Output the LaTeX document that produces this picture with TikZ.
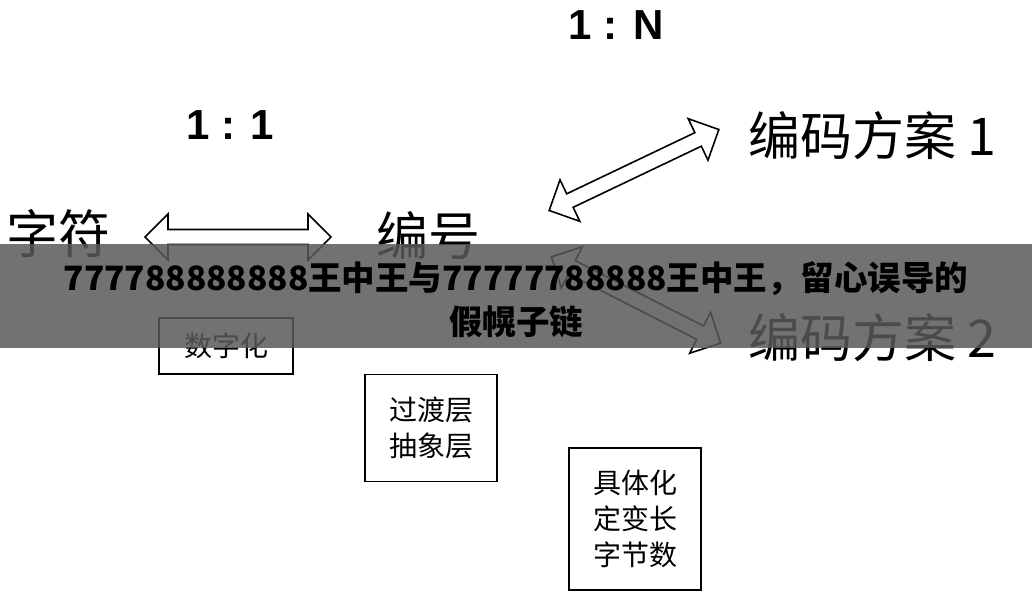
\documentclass[tikz,border=0pt]{standalone}
\usepackage{fontspec}
\newfontfamily\cjk{Noto Sans CJK SC}
\setmainfont{Liberation Sans}
\usetikzlibrary{shapes.arrows,positioning}
\begin{document}
\begin{tikzpicture}
    [x=1pt,y=-1pt,
    label/.style={font=\cjk\fontsize{52}{56}\selectfont,inner sep=0pt},
    ratio/.style={font=\bfseries\fontsize{42}{46}\selectfont,inner sep=0pt},
    box/.style={draw,line width=1.2pt,font=\cjk\fontsize{28}{36}\selectfont,align=center,inner sep=0pt},
    twoway/.style={double arrow,draw,line width=1.6pt,fill=white,minimum height=#1,
      minimum width=46pt,double arrow head extend=12pt,inner sep=5pt}]
    \useasboundingbox (0,0) rectangle (1032,594);
    \node[ratio] (one) at (230,125) {1 : 1};
    \node[ratio] (many) at (616,25) {1 : N};
    \node[label] (char) at (58,234) {字符};
    \node[label] (code) at (428,236) {编号};
    \node[label,anchor=west] (plan one) at (748,136) {编码方案 1};
    \node[label,anchor=west] (plan two) at (748,338) {编码方案 2};
    \node[twoway=186pt] (link) at (238,237) {};
    \node[twoway=188pt,rotate=25.5] (up) at (634,170) {};
    \node[twoway=190pt,rotate=-27] (down) at (636,300) {};
    \node[box,minimum width=134pt,minimum height=56pt] (digit) at (226,346) {数字化};
    \node[box,minimum width=132pt,minimum height=107pt] (layer) at (431,428) {过渡层\\抽象层};
    \node[box,minimum width=132pt,minimum height=142pt] (bytes) at (635,519) {具体化\\定变长\\字节数};
    % banner
    \fill[gray!70!black,opacity=0.85] (0,244) rectangle (1032,348);
    \node[font=\cjk\bfseries\fontsize{33.5}{44}\selectfont,align=center] (title) at (516,300)
      {777788888888王中王与77777788888王中王，留心误导的\\假幌子链};
\end{tikzpicture}
\end{document}
